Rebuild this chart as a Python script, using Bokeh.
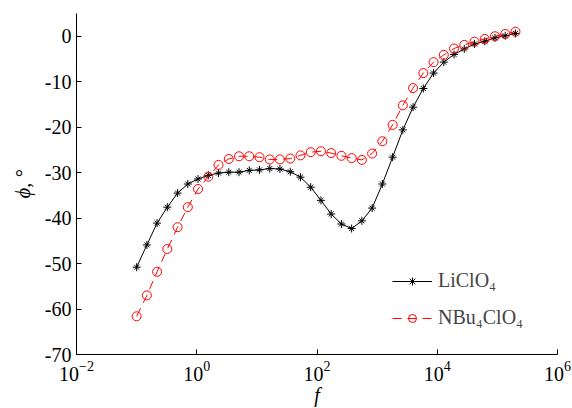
import numpy as np
from bokeh.plotting import figure
from bokeh.models import FixedTicker, Legend, LegendItem, ColumnDataSource
from bokeh.embed import file_html
from bokeh.resources import INLINE

# frequency (Hz), log-spaced measurement points
freq = [0.1, 0.148, 0.219, 0.324, 0.480, 0.710, 1.05, 1.56, 2.30, 3.41,
        5.05, 7.47, 11.06, 16.4, 24.2, 35.9, 53.1, 78.6, 116.3, 172.1,
        254.7, 377.0, 557.9, 825.7, 1222, 1809, 2678, 3963, 5866, 8683,
        12853, 19022, 28154, 41670, 61675, 91283, 135108, 200000]

phi_licl = [-50.8, -45.9, -41.1, -37.6, -34.5, -32.5, -31.4, -30.6, -30.1, -29.9,
            -29.9, -29.5, -29.4, -29.1, -29.2, -29.8, -31.0, -33.2, -36.1, -39.1,
            -41.3, -42.3, -40.6, -37.8, -32.5, -26.6, -20.6, -15.6, -11.5, -8.1,
            -5.7, -4.0, -2.8, -1.7, -1.1, -0.35, 0.1, 0.6]

phi_nbu = [-61.6, -57.0, -51.8, -46.8, -42.0, -37.6, -33.6, -30.9, -28.3, -27.0,
           -26.4, -26.4, -26.6, -27.1, -27.1, -26.9, -26.2, -25.5, -25.3, -25.7,
           -26.3, -26.8, -27.2, -25.8, -23.1, -19.5, -15.2, -11.4, -8.1, -5.7,
           -4.1, -2.7, -1.9, -1.2, -0.6, 0.0, 0.5, 1.0]

x_ticks = [1e-2, 1e0, 1e2, 1e4, 1e6]
y_ticks = [-70, -60, -50, -40, -30, -20, -10, 0]

FONT = "Liberation Serif"

src = ColumnDataSource(dict(f=freq, a=phi_licl, b=phi_nbu))

p = figure(x_axis_type="log", x_range=(1e-2, 1e6), y_range=(-70, 5),
           frame_width=481, frame_height=341,
           min_border_left=76, min_border_right=15, min_border_top=13, min_border_bottom=54,
           output_backend="svg", toolbar_location=None)
p.outline_line_color = None
p.grid.visible = False
p.background_fill_color = "white"

l1 = p.line("f", "a", source=src, line_color="black", line_width=1)
s1 = p.scatter("f", "a", source=src, marker="cross", size=8, line_color="black", line_width=1)
s2 = p.scatter("f", "a", source=src, marker="x", size=7, line_color="black", line_width=1)

l2 = p.line("f", "b", source=src, line_color="#ff0000", line_width=1, line_dash="9 6")
c2 = p.scatter("f", "b", source=src, marker="circle", size=9, fill_color=None,
               line_color="#ff0000", line_width=1)

legend = Legend(items=[LegendItem(label="LiClO₄", renderers=[l1, s1, s2]),
                       LegendItem(label="NBu₄ClO₄", renderers=[l2, c2])],
                location=(316, 25), border_line_color=None, background_fill_alpha=0,
                padding=0, margin=0, spacing=14, glyph_width=40, glyph_height=20,
                label_height=20, label_standoff=6,
                label_text_font=FONT, label_text_font_size="20px")
p.add_layout(legend)

for ax in (p.xaxis[0], p.yaxis[0]):
    ax.major_tick_in = 5
    ax.major_tick_out = 0
    ax.minor_tick_in = 0
    ax.minor_tick_out = 0
    ax.axis_line_color = "black"
    ax.major_tick_line_color = "black"
    ax.major_label_text_font = FONT
    ax.major_label_text_font_size = "20px"
    ax.major_label_text_color = "black"
    ax.axis_label_text_font = FONT
    ax.axis_label_text_font_size = "20px"
    ax.axis_label_text_font_style = "italic"
    ax.axis_label_text_color = "black"

p.xaxis[0].ticker = FixedTicker(ticks=x_ticks)
p.yaxis[0].ticker = FixedTicker(ticks=y_ticks)
p.yaxis[0].major_label_overrides = {v: str(v) for v in y_ticks}
p.xaxis[0].major_label_standoff = 6
p.yaxis[0].major_label_standoff = 5
p.xaxis[0].axis_label = "f"
p.xaxis[0].axis_label_standoff = 0
p.yaxis[0].axis_label = "ϕ, °"
p.yaxis[0].axis_label_standoff = 8

open("out.html", "w").write(file_html(p, INLINE))
